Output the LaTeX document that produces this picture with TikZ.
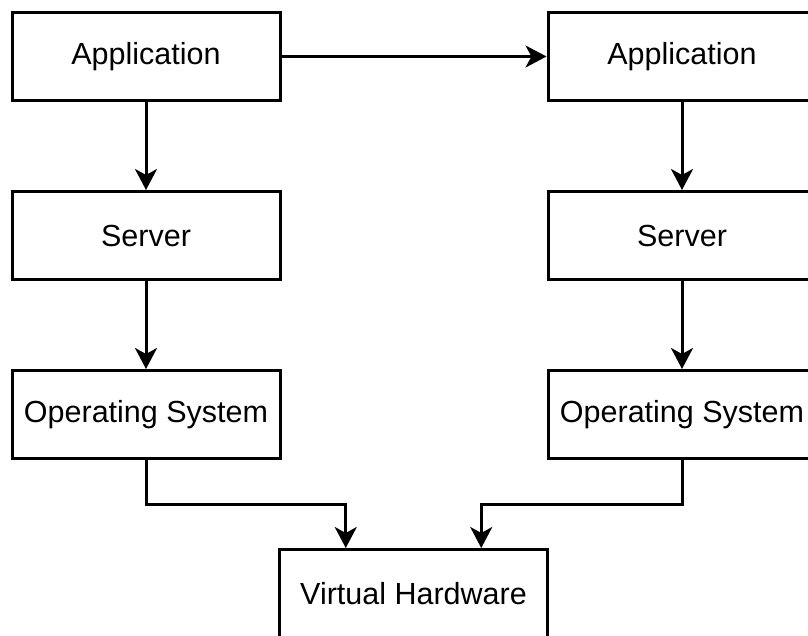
\documentclass[tikz,border=0pt]{standalone}
\usepackage{fontspec}
\setmainfont{Liberation Sans}
\usetikzlibrary{arrows.meta,calc}
\begin{document}
\begin{tikzpicture}[x=1pt,y=-1pt,
  box/.style={draw=black,line width=3pt,fill=white,minimum width=268pt,minimum height=88pt,inner sep=0pt,font=\fontsize{30.5pt}{36pt}\selectfont},
  conn/.style={line width=3pt,-{Stealth[length=21pt,width=22pt,inset=6pt]}}]
\useasboundingbox (0,0) rectangle (808,635);
\node[box] (a1) at (146,56.5) {Application};
\node[box] (s1) at (146,235.5) {Server};
\node[box] (o1) at (146,414.5) {Operating System};
\node[box] (a2) at (682,56.5) {Application};
\node[box] (s2) at (682,235.5) {Server};
\node[box] (o2) at (682,414.5) {Operating System};
\node[box] (vh) at (413.5,593.5) {Virtual Hardware};
\coordinate (vhL) at ($(vh.north west)!0.25!(vh.north east)$);
\coordinate (vhR) at ($(vh.north west)!0.75!(vh.north east)$);
\coordinate (m1) at ($(o1.south)!0.5!(o1.south |- vh.north)$);
\coordinate (m2) at ($(o2.south)!0.5!(o2.south |- vh.north)$);
\draw[conn] (a1) -- (a2);
\draw[conn] (a1) -- (s1);
\draw[conn] (s1) -- (o1);
\draw[conn] (a2) -- (s2);
\draw[conn] (s2) -- (o2);
\draw[conn] (o1.south) -- (m1) -| (vhL);
\draw[conn] (o2.south) -- (m2) -| (vhR);
\end{tikzpicture}
\end{document}
